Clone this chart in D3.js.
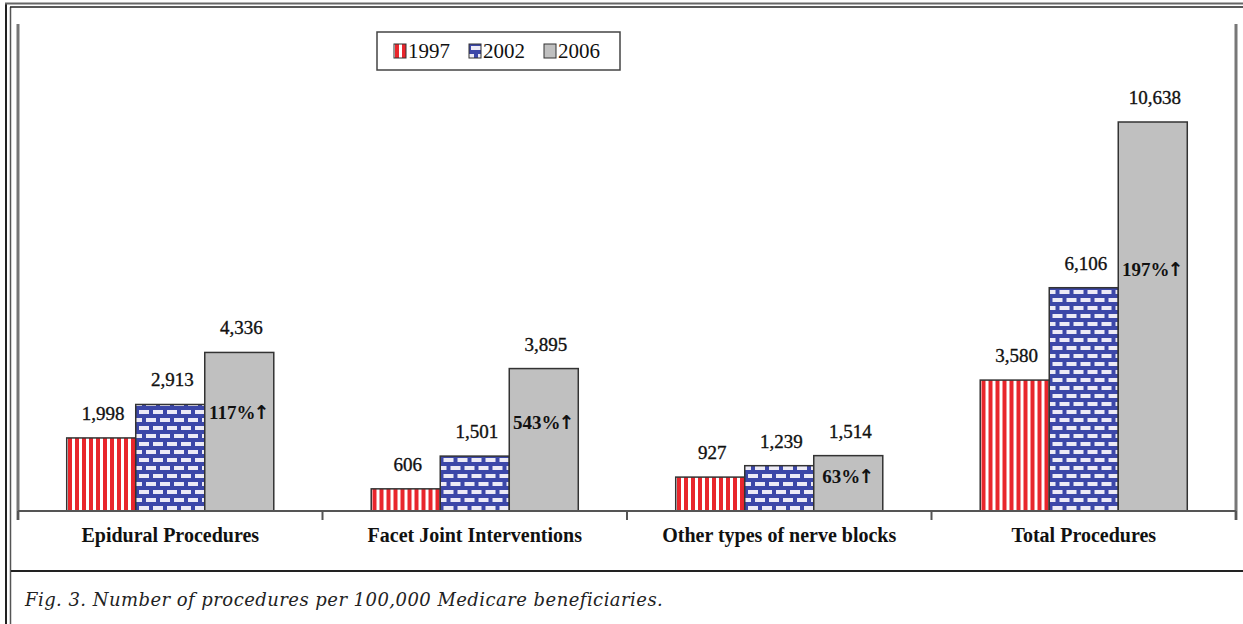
<!DOCTYPE html>
<html>
<head>
<meta charset="utf-8">
<title>procedures per 100,000 medicare</title>
<script src="https://d3js.org/d3.v7.min.js"></script>
<style>
    body { margin: 0; background: #fff; }
    text { font-family: "Liberation Serif", "DejaVu Serif", serif; fill: #111; }
    .cat { font-weight: bold; font-size: 20px; }
    .val { font-size: 19px; stroke: #111; stroke-width: 0.35px; }
    .pct { font-weight: bold; font-size: 19px; }
    .arrow { font-family: "DejaVu Sans", sans-serif; font-weight: bold; font-size: 19px; }
    .leg { font-size: 21px; }
    .caption { font-family: "DejaVu Serif", serif; font-style: italic; font-size: 18px; letter-spacing: 0.45px; fill: #222; }
    .bar { stroke: #333; stroke-width: 1.5px; }
</style>
</head>
<body>
<script>
// data
const categories = ["Epidural Procedures", "Facet Joint Interventions", "Other types of nerve blocks", "Total Procedures"];
const years = ["1997", "2002", "2006"];
const v1997 = [1998, 606, 927, 3580];
const v2002 = [2913, 1501, 1239, 6106];
const v2006 = [4336, 3895, 1514, 10638];
const growth = ["117%", "543%", "63%", "197%"];

const width = 1243, height = 624;
const left = 18, right = 1236, baseY = 511, topY = 122;

const svg = d3.select("body").append("svg")
    .attr("width", width)
    .attr("height", height);

// patterns for the three years
const defs = svg.append("defs");
let p1 = defs.append("pattern").attr("id", "p1997")
    .attr("patternUnits", "userSpaceOnUse").attr("width", 7).attr("height", 10);
p1.append("rect").attr("width", 7).attr("height", 10).attr("fill", "#fff");
p1.append("rect").attr("x", 1).attr("width", 4).attr("height", 10).attr("fill", "#e8262c");

let p2 = defs.append("pattern").attr("id", "p2002")
    .attr("patternUnits", "userSpaceOnUse").attr("width", 14).attr("height", 16);
p2.append("rect").attr("width", 14).attr("height", 16).attr("fill", "#3c47a8");
p2.append("rect").attr("x", 2).attr("y", 2).attr("width", 10).attr("height", 4).attr("fill", "#eceaf6");
p2.append("rect").attr("x", -5).attr("y", 10).attr("width", 10).attr("height", 4).attr("fill", "#eceaf6");
p2.append("rect").attr("x", 9).attr("y", 10).attr("width", 10).attr("height", 4).attr("fill", "#eceaf6");

const fills = { "1997": "url(#p1997)", "2002": "url(#p2002)", "2006": "#c0c0c0" };

// frame
svg.append("line").attr("x1", 6).attr("x2", 6).attr("y1", 3).attr("y2", height).attr("stroke", "#222").attr("stroke-width", 2);
svg.append("line").attr("x1", 10.5).attr("x2", 10.5).attr("y1", 7).attr("y2", height).attr("stroke", "#555").attr("stroke-width", 1.5);
svg.append("line").attr("x1", 5).attr("x2", width).attr("y1", 3.5).attr("y2", 3.5).attr("stroke", "#666").attr("stroke-width", 2);
svg.append("line").attr("x1", 10).attr("x2", width).attr("y1", 7).attr("y2", 7).attr("stroke", "#222").attr("stroke-width", 1.5);
svg.append("line").attr("x1", 11).attr("x2", width).attr("y1", 571).attr("y2", 571).attr("stroke", "#222").attr("stroke-width", 2);

// scales
const x = d3.scaleBand().domain(categories).range([left, right]);
const x1 = d3.scaleBand().domain(years).range([0, x.bandwidth()]).paddingOuter(0.706);
const y = d3.scaleLinear().domain([0, 10638]).range([baseY, topY]);

const rows = categories.map((c, i) => ({
    cat: c,
    vals: [
        { year: "1997", v: v1997[i] },
        { year: "2002", v: v2002[i] },
        { year: "2006", v: v2006[i] }
    ],
    g: growth[i]
}));

// plot side lines
[left, right].forEach(px => {
    svg.append("line").attr("x1", px).attr("x2", px).attr("y1", 24).attr("y2", 520)
        .attr("stroke", "#777").attr("stroke-width", 3);
});

const groups = svg.selectAll("g.cat-group")
    .data(rows)
    .join("g")
    .attr("class", "cat-group")
    .attr("transform", d => "translate(" + x(d.cat) + ",0)");

groups.selectAll("rect")
    .data(d => d.vals)
    .join("rect")
    .attr("class", "bar")
    .attr("x", d => x1(d.year))
    .attr("y", d => y(d.v))
    .attr("width", x1.bandwidth())
    .attr("height", d => baseY - y(d.v))
    .attr("fill", d => fills[d.year]);

groups.selectAll("text.val")
    .data(d => d.vals)
    .join("text")
    .attr("class", "val")
    .attr("x", d => x1(d.year) + x1.bandwidth() / 2 + 2)
    .attr("y", d => y(d.v) - 18)
    .attr("text-anchor", "middle")
    .text(d => d3.format(",")(d.v));

const pct = groups.append("text")
    .attr("class", "pct")
    .attr("x", d => x1("2006") + x1.bandwidth() / 2)
    .attr("y", d => y(d.vals[2].v * 0.62) + 6)
    .attr("text-anchor", "middle");
pct.append("tspan").text(d => d.g);
pct.append("tspan").attr("class", "arrow").attr("dx", -2).text("\u2191");

// x axis
svg.append("line").attr("x1", left).attr("x2", right).attr("y1", baseY).attr("y2", baseY)
    .attr("stroke", "#555").attr("stroke-width", 2);
const bounds = categories.map(c => x(c)).concat([right]);
svg.selectAll("line.tick")
    .data(bounds)
    .join("line")
    .attr("class", "tick")
    .attr("x1", d => d).attr("x2", d => d)
    .attr("y1", baseY).attr("y2", 520)
    .attr("stroke", "#555").attr("stroke-width", 2);

const xAxis = d3.axisBottom(x).tickSize(0).tickPadding(17);
const ax = svg.append("g").attr("transform", "translate(0," + baseY + ")").call(xAxis);
ax.select(".domain").remove();
ax.selectAll("text").attr("class", "cat").attr("font-family", null).attr("font-size", null).attr("fill", "#111");

// legend
const leg = svg.append("g").attr("transform", "translate(377,32)");
leg.append("rect").attr("width", 243).attr("height", 38).attr("fill", "#fff")
    .attr("stroke", "#444").attr("stroke-width", 1.5);
const legX = d3.scalePoint().domain(years).range([17, 167]);
const li = leg.selectAll("g.item").data(years).join("g")
    .attr("transform", d => "translate(" + legX(d) + ",12)");
li.append("rect").attr("width", 12).attr("height", 14)
    .attr("fill", d => fills[d]).attr("stroke", "#333").attr("stroke-width", 1);
li.append("text").attr("class", "leg").attr("x", 14).attr("y", 14).text(d => d);

// caption
svg.append("text").attr("class", "caption").attr("x", 25).attr("y", 606)
    .text("Fig. 3. Number of procedures per 100,000 Medicare beneficiaries.");
</script>
</body>
</html>
